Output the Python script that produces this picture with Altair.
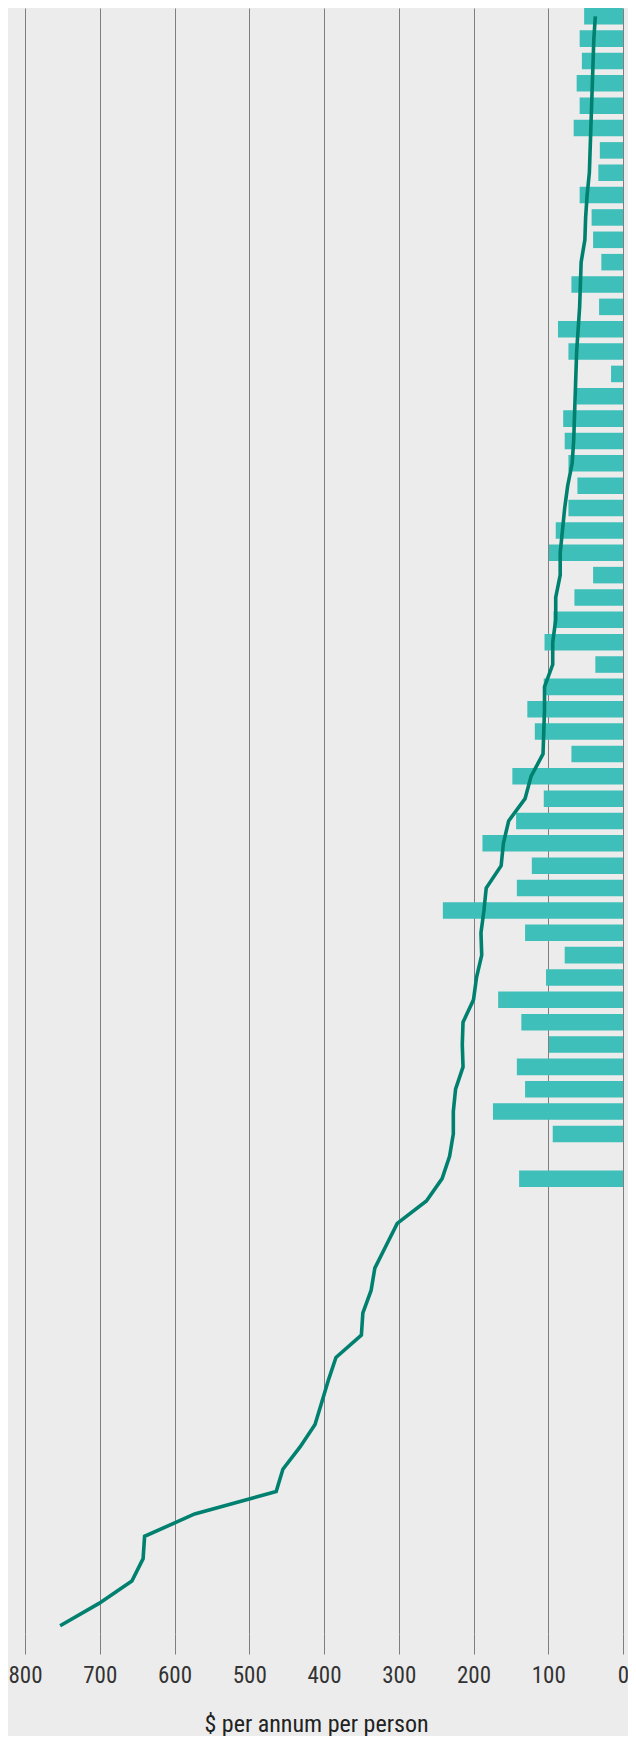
import altair as alt
import pandas as pd

# 73 unnamed rows (top to bottom)
rows = [f"R{i + 1:02d}" for i in range(73)]

# Bar values ($ per annum per person) for the first 53 rows (row 52 has no bar)
bar_values = [52, 58, 55, 62, 58, 66, 31, 33, 58, 42, 40, 29, 69,
              32, 87, 73, 16, 62, 80, 78, 73, 61, 73, 90, 99, 40, 65,
              93, 105, 37, 106, 128, 118,
              69, 148, 106, 143, 188, 122, 142, 241, 131, 78, 103, 167,
              136, 99, 142, 131, 174, 94, None, 139]

# Line values for all 73 rows
line_values = [37, 39, 40, 41, 42, 43, 44, 45, 48, 50, 51, 56, 57,
               58, 60, 62, 63, 64, 65, 66, 68, 74, 78, 81, 84, 84, 90,
               90, 94, 94, 105, 105, 106, 107, 123, 131, 153, 160, 163,
               183, 186, 190, 189, 196, 200, 214, 215, 214, 224, 227, 227,
               232, 242, 263, 302, 317, 332, 337, 348, 350, 384, 394, 403,
               412, 432, 455, 464, 573, 640, 642, 657, 701, 753]

tick_values = [0, 100, 200, 300, 400, 500, 600, 700, 800]

df_bar = pd.DataFrame({"row": rows[:len(bar_values)], "value": bar_values}).dropna()
df_line = pd.DataFrame({"row": rows, "value": line_values, "order": list(range(len(rows)))})

FONT = "Liberation Sans Narrow, Roboto Condensed, DejaVu Sans Condensed, Arial Narrow, sans-serif"
GRID = "#7f7f7f"

y_enc = alt.Y("row:N", sort=rows,
              scale=alt.Scale(domain=rows, paddingInner=0.26, paddingOuter=0),
              axis=None)
x_scale = alt.Scale(domain=[0, 800], reverse=True, nice=False)
x_axis = alt.Axis(values=tick_values, grid=True, gridColor=GRID, gridWidth=1,
                  domain=False, ticks=True, tickSize=20, tickColor=GRID, tickWidth=1,
                  labelFont=FONT, labelFontSize=23, labelColor="#333333",
                  labelPadding=10, labelFlush=False,
                  title="$ per annum per person", titleFont=FONT, titleFontSize=24,
                  titleFontWeight="normal", titleColor="#222222",
                  titleBaseline="alphabetic", titleY=97, titleX=291, titleAlign="center")

bars = alt.Chart(df_bar).mark_bar(color="#3fbfb9").encode(
    x=alt.X("value:Q", scale=x_scale, axis=x_axis),
    y=y_enc,
)

line = alt.Chart(df_line).mark_line(color="#00806f", strokeWidth=3.6, strokeJoin="miter").encode(
    x=alt.X("value:Q", scale=x_scale),
    y=y_enc,
    order="order:Q",
)

chart = alt.layer(bars, line).properties(
    width=598,
    height=1626,
    background="#ececec",
    padding={"left": 17, "top": 0, "right": 5, "bottom": 102},
    autosize=alt.AutoSizeParams(type="none"),
).configure_view(stroke=None)

chart.save("out.html", embed_options={"renderer": "svg", "actions": False})
